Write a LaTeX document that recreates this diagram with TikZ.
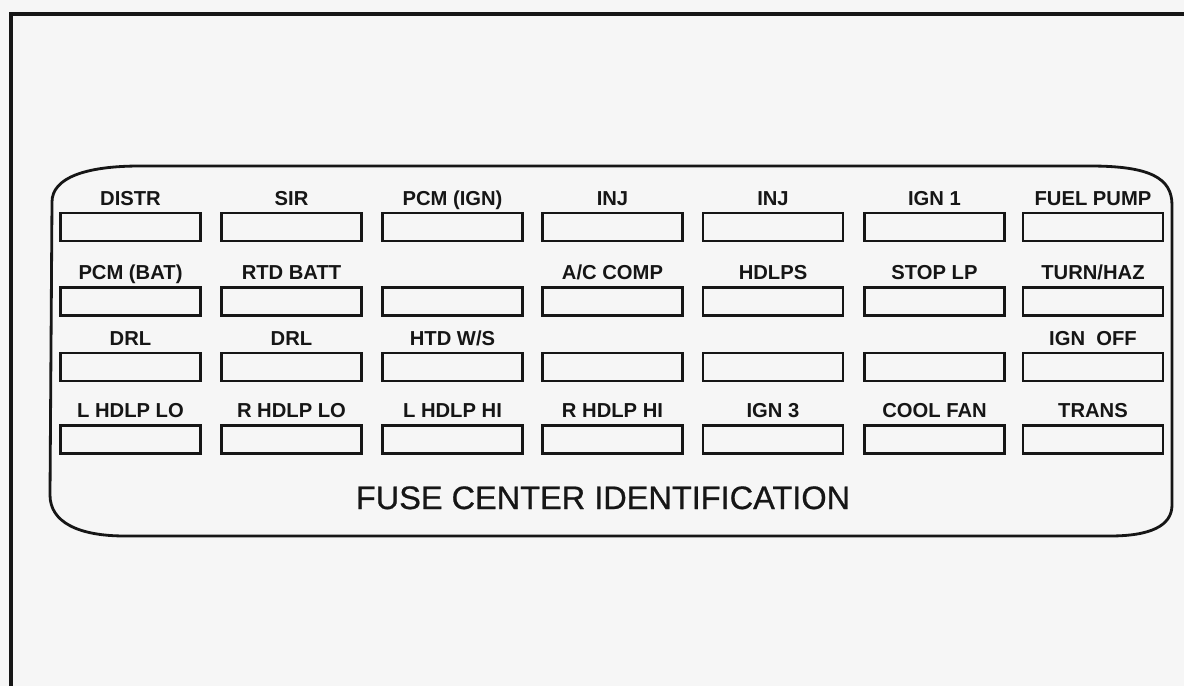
\documentclass[tikz,border=0pt]{standalone}
\usepackage{fontspec}
\setmainfont{Liberation Sans}
\newfontfamily\titlefont[FakeBold=0.7]{Liberation Sans}
\usepackage{xcolor}
\usepackage{tikz}
\usetikzlibrary{positioning,calc}
\definecolor{cPaper}{HTML}{F6F6F6}
\definecolor{cInk}{HTML}{161616}
\tikzset{
  fuse/.style={draw=cInk,line width=1.6pt,minimum width=2.8cm,minimum height=0.56cm,inner sep=0pt},
  flabel/.style={anchor=base,text=cInk,inner sep=0pt,font=\fontsize{11.5}{12}\selectfont\bfseries},
  panel/.style={draw=cInk,line width=1.6pt},
  frame/.style={draw=cInk,line width=1.8pt},
}

\begin{document}
\begin{tikzpicture}[x=0.02cm,y=-0.02cm]
  \useasboundingbox (0,0) rectangle (1184,686);
  \fill[cPaper] (0,0) rectangle (1184,686);
  \draw[frame] (11,690) -- (11,14) -- (1190,14);
  \draw[panel] (52,202) .. controls (52,178) and (85,166) .. (140,166) -- (1090,166)
    .. controls (1150,166) and (1172,178) .. (1172,205) -- (1172,505)
    .. controls (1172,526) and (1150,536) .. (1110,536) -- (125,536)
    .. controls (78,536) and (50,522) .. (50,495) -- cycle;
  \foreach \r/\y in {1/227,2/301.5,3/367,4/439.5}
    \foreach \c/\x in {1/130.5,2/291.5,3/452.5,4/612.5,5/773,6/934.5,7/1093}
      \node[fuse] (f\r-\c) at (\x,\y) {};
  \foreach \r/\c/\t in {1/1/DISTR,1/2/SIR,1/3/PCM (IGN),1/4/INJ,1/5/INJ,1/6/IGN 1,1/7/FUEL PUMP,
      2/1/PCM (BAT),2/2/RTD BATT,2/4/{A/C COMP},2/5/HDLPS,2/6/STOP LP,2/7/{TURN/HAZ},
      3/1/DRL,3/2/DRL,3/3/{HTD W/S},3/7/IGN\ \ OFF,
      4/1/L HDLP LO,4/2/R HDLP LO,4/3/L HDLP HI,4/4/R HDLP HI,4/5/IGN 3,4/6/COOL FAN,4/7/TRANS}
    \node[flabel] (l\r-\c) at ([yshift=0.13cm]f\r-\c.north) {\t};
  \node[anchor=base,text=cInk,inner sep=0pt,font=\titlefont\fontsize{18.5}{20}\selectfont] (title) at (603,509) {FUSE CENTER IDENTIFICATION};
\end{tikzpicture}
\end{document}
